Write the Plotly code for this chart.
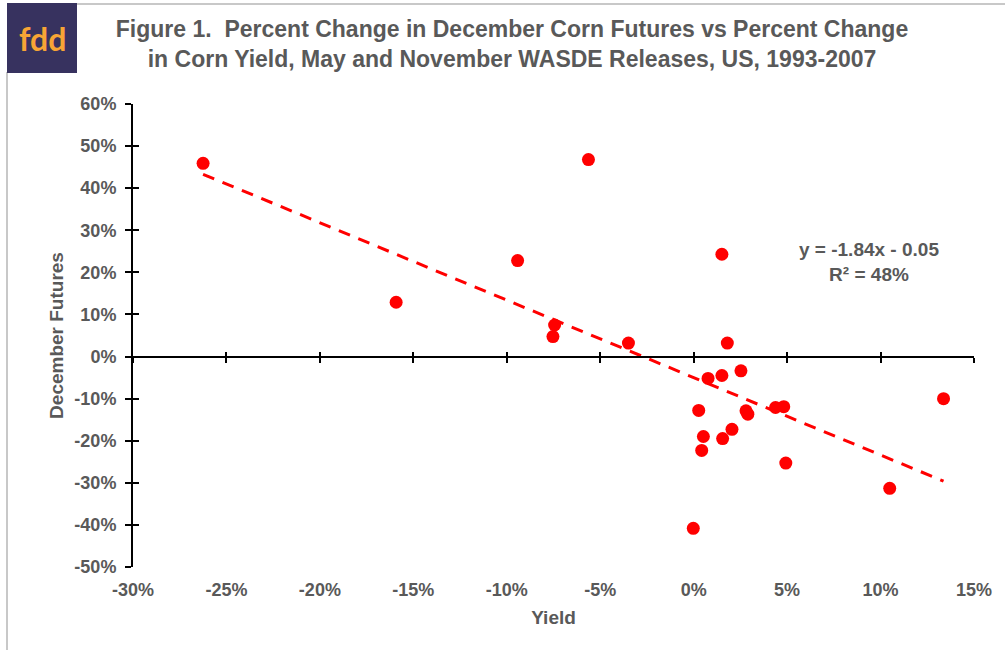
import plotly.graph_objects as go

# ---- data (percent) ----
yield_pct = [-26.25, -15.92, -9.42, -7.44, -7.53, -5.63, -3.49, 1.51, 1.80, 2.53,
             0.77, 1.51, 13.37, 0.27, 2.80, 2.90, 4.38, 4.82, 2.05, 0.52,
             1.55, 0.43, 4.93, 10.49, -0.02]
futures_pct = [45.9, 12.9, 22.8, 7.5, 4.75, 46.8, 3.2, 24.3, 3.2, -3.4,
               -5.2, -4.5, -10.0, -12.8, -12.9, -13.7, -12.1, -11.9, -17.3, -19.0,
               -19.5, -22.3, -25.3, -31.3, -40.8]

trend_slope = -1.84
trend_intercept = -0.05
equation_text = "y = -1.84x - 0.05<br>R² = 48%"

x_tickvals = [-0.30, -0.25, -0.20, -0.15, -0.10, -0.05, 0.0, 0.05, 0.10, 0.15]
x_ticktext = ["-30%", "-25%", "-20%", "-15%", "-10%", "-5%", "0%", "5%", "10%", "15%"]
y_tickvals = [-0.5, -0.4, -0.3, -0.2, -0.1, 0.0, 0.1, 0.2, 0.3, 0.4, 0.5, 0.6]
y_ticktext = ["-50%", "-40%", "-30%", "-20%", "-10%", "0%", "10%", "20%", "30%", "40%", "50%", "60%"]

title_text = ("Figure 1.  Percent Change in December Corn Futures vs Percent Change<br>"
              "in Corn Yield, May and November WASDE Releases, US, 1993-2007")

# ---- derived ----
xs = [v / 100 for v in yield_pct]
ys = [v / 100 for v in futures_pct]
tx = [min(xs), max(xs)]
ty = [trend_slope * v + trend_intercept for v in tx]

X_RANGE = [-0.30, 0.15]
Y_RANGE = [-0.5, 0.6]
zero_pos = (0 - Y_RANGE[0]) / (Y_RANGE[1] - Y_RANGE[0])

GRAY = "#595959"
FONT = "Liberation Sans, Arial, sans-serif"

fig = go.Figure()
fig.add_trace(go.Scatter(x=tx, y=ty, mode="lines",
                         line=dict(color="#ff0000", width=3, dash="12px,9px"),
                         hoverinfo="skip", showlegend=False))
fig.add_trace(go.Scatter(x=xs, y=ys, mode="markers",
                         marker=dict(color="#ff0000", size=13),
                         showlegend=False))
# helper traces so overlay axes are drawn
fig.add_trace(go.Scatter(x=[], y=[], xaxis="x2", yaxis="y", showlegend=False))
fig.add_trace(go.Scatter(x=[], y=[], xaxis="x3", yaxis="y", showlegend=False))
fig.add_trace(go.Scatter(x=[], y=[], xaxis="x", yaxis="y2", showlegend=False))

tickfont = dict(family=FONT, size=18, color=GRAY, weight="bold")
axtitlefont = dict(family=FONT, size=19, color=GRAY, weight="bold")

fig.update_layout(
    width=1005, height=650,
    margin=dict(l=133, r=31, t=104, b=83, autoexpand=False),
    paper_bgcolor="white", plot_bgcolor="white",
    showlegend=False,
    title=dict(text=title_text, x=512 / 1005, xanchor="center", xref="container",
               y=1 - 37 / 650, yanchor="middle", yref="container", automargin=False,
               font=dict(family=FONT, size=23, color=GRAY, weight="bold")),
    xaxis=dict(range=X_RANGE, tickvals=x_tickvals, ticktext=x_ticktext, automargin=False,
               showgrid=False, zeroline=False, showline=False, ticks="",
               ticklabelstandoff=10, tickfont=tickfont,
               title=dict(text="Yield", standoff=11, font=axtitlefont)),
    xaxis2=dict(range=X_RANGE, matches="x", overlaying="x", anchor="free", position=zero_pos,
                tickvals=x_tickvals, showticklabels=False, showgrid=False, zeroline=False,
                showline=True, linecolor="black", linewidth=2, automargin=False,
                ticks="outside", ticklen=5, tickwidth=2, tickcolor="black"),
    xaxis3=dict(range=X_RANGE, matches="x", overlaying="x", anchor="free", position=zero_pos,
                tickvals=x_tickvals, showticklabels=False, showgrid=False, zeroline=False,
                showline=False, automargin=False,
                ticks="inside", ticklen=5, tickwidth=2, tickcolor="black"),
    yaxis=dict(range=Y_RANGE, tickvals=y_tickvals, ticktext=y_ticktext, automargin=False,
               showgrid=False, zeroline=False, showline=True, linecolor="black", linewidth=2,
               ticks="outside", ticklen=6, tickwidth=2, tickcolor="black",
               ticklabelstandoff=5, tickfont=tickfont,
               title=dict(text="December Futures", standoff=6, font=axtitlefont)),
    yaxis2=dict(range=Y_RANGE, matches="y", overlaying="y", anchor="x", side="left",
                tickvals=y_tickvals, showticklabels=False, showgrid=False, zeroline=False,
                showline=False, automargin=False,
                ticks="inside", ticklen=6, tickwidth=2, tickcolor="black"),
)

# equation annotation
fig.add_annotation(text=equation_text, xref="x", yref="y", x=0.094, y=0.225,
                   showarrow=False, align="center",
                   font=dict(family=FONT, size=19, color=GRAY, weight="bold"))

# frame lines and logo (paper coordinates)
def px_x(p):
    return (p - 133) / 841
def px_y(p):
    return (567 - p) / 463

fig.add_shape(type="line", xref="paper", yref="paper",
              x0=px_x(77), x1=px_x(1010), y0=px_y(4), y1=px_y(4),
              line=dict(color="#c8c8c8", width=2))
fig.add_shape(type="line", xref="paper", yref="paper",
              x0=px_x(7), x1=px_x(7), y0=px_y(72), y1=px_y(655),
              line=dict(color="#c8c8c8", width=2))
fig.add_shape(type="rect", xref="paper", yref="paper",
              x0=px_x(7), x1=px_x(77), y0=px_y(73), y1=px_y(3),
              fillcolor="#37325f", line=dict(width=0))
fig.add_annotation(text="fdd", xref="paper", yref="paper", x=px_x(42), y=px_y(38),
                   showarrow=False, xanchor="center", yanchor="middle",
                   font=dict(family="Lato, Open Sans, sans-serif", size=32, color="#f7a535",
                             weight="bold"))

fig.write_html("out.html", config={"displayModeBar": False},
               post_script="document.body.style.margin='0';document.body.style.overflow='hidden';")
